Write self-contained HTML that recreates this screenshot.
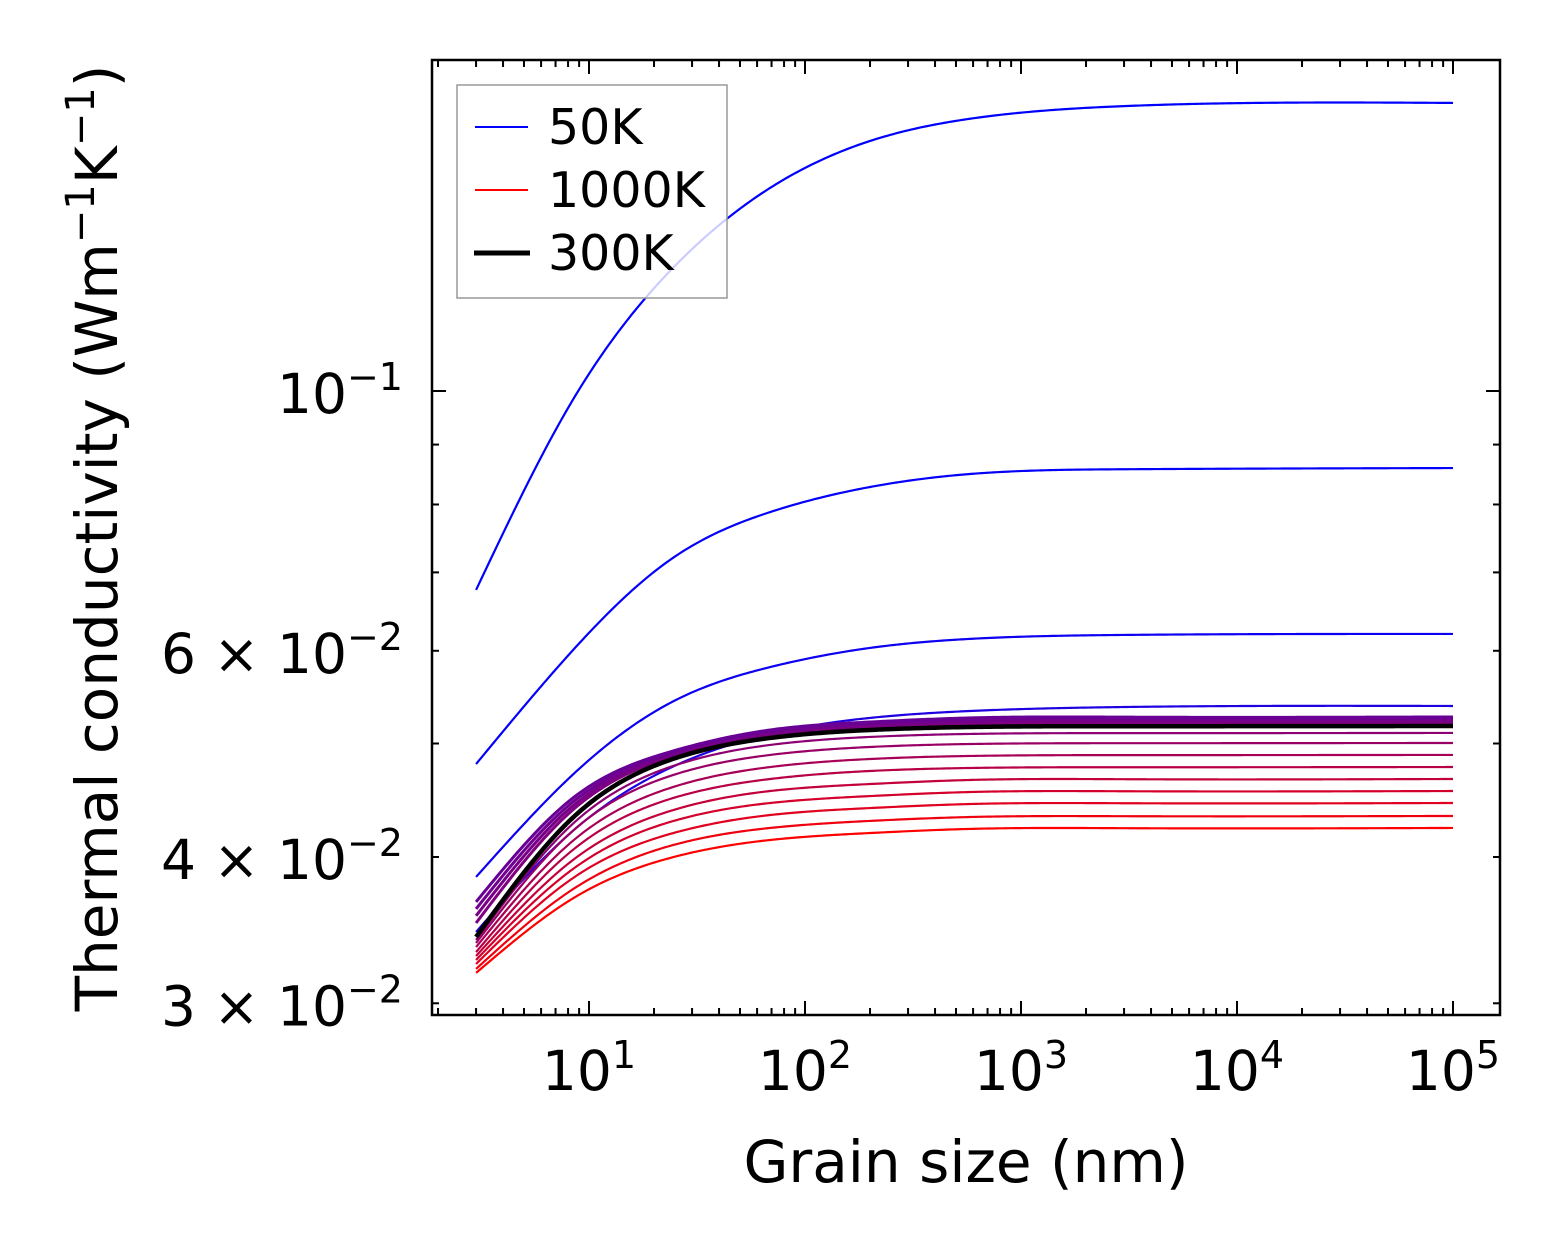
<!DOCTYPE html>
<html><head><meta charset="utf-8"><style>
html,body{margin:0;padding:0;background:#fff;}
svg{display:block;font-family:"DejaVu Sans","Liberation Sans",sans-serif;}
</style></head><body>
<svg id="chart" width="1562" height="1254" viewBox="0 0 1562 1254" xmlns="http://www.w3.org/2000/svg">
<rect width="1562" height="1254" fill="#fff"/>
<g id="curves"></g>
<g id="axes"></g>
<text x="966" y="1182" font-size="58" text-anchor="middle">Grain size (nm)</text>
<text transform="translate(117,538) rotate(-90)" font-size="58" text-anchor="middle">Thermal conductivity (Wm<tspan dy="-23" font-size="40">−1</tspan><tspan dy="23">K</tspan><tspan dy="-23" font-size="40">−1</tspan><tspan dy="23">)</tspan></text>
<g>
<rect x="457" y="85" width="270" height="213" fill="#fff" fill-opacity="0.8" stroke="#999" stroke-width="1.5"/>
<line x1="475" y1="127" x2="528" y2="127" stroke="#0000ff" stroke-width="2"/>
<text x="548" y="144" font-size="49">50K</text>
<line x1="475" y1="190" x2="528" y2="190" stroke="#ff0000" stroke-width="2"/>
<text x="548" y="207" font-size="49">1000K</text>
<line x1="474" y1="253" x2="530" y2="253" stroke="#000" stroke-width="5"/>
<text x="548" y="270" font-size="49">300K</text>
</g>
</svg>
<script>
// grain sizes (nm)
const grainSizes = [3, 8.2, 23.7, 69, 200, 580, 3000, 100000];
// thermal conductivity series (W/m/K)
const kBlue1 = [0.06763, 0.09747, 0.1266, 0.1491, 0.1635, 0.1708, 0.1751, 0.1762];
const kBlue2 = [0.04802, 0.05974, 0.07173, 0.07882, 0.08280, 0.08494, 0.08574, 0.08594];
const kBlue3 = [0.03846, 0.04682, 0.05414, 0.05811, 0.06034, 0.06142, 0.06190, 0.06202];
const kBlue4 = [0.03452, 0.04193, 0.04765, 0.05095, 0.05258, 0.05330, 0.05372, 0.05383];
const kPurple1 = [0.03662, 0.04474, 0.04918, 0.05135, 0.05216, 0.05258, 0.05266, 0.05268];
const kPurple2 = [0.03612, 0.04439, 0.04898, 0.05115, 0.05196, 0.05237, 0.05245, 0.05247];
const kPurple3 = [0.03563, 0.04404, 0.04879, 0.05095, 0.05175, 0.05216, 0.05225, 0.05227];
const kPurple4 = [0.03513, 0.04370, 0.04869, 0.05085, 0.05165, 0.05196, 0.05204, 0.05206];
const kRed1 = [0.03398, 0.04251, 0.04774, 0.04986, 0.05065, 0.05095, 0.05103, 0.05105];
const kRed2 = [0.03378, 0.04193, 0.04690, 0.04889, 0.04966, 0.04995, 0.05003, 0.05005];
const kRed3 = [0.03351, 0.04112, 0.04581, 0.04774, 0.04850, 0.04879, 0.04887, 0.04889];
const kRed4 = [0.03318, 0.04040, 0.04483, 0.04663, 0.04737, 0.04765, 0.04772, 0.04774];
const kRed5 = [0.03292, 0.03961, 0.04378, 0.04554, 0.04617, 0.04654, 0.04661, 0.04663];
const kRed6 = [0.03267, 0.03892, 0.04285, 0.04448, 0.04509, 0.04545, 0.04552, 0.04554];
const kRed7 = [0.03241, 0.03824, 0.04185, 0.04344, 0.04404, 0.04439, 0.04446, 0.04448];
const kRed8 = [0.03210, 0.03742, 0.04088, 0.04235, 0.04294, 0.04327, 0.04334, 0.04336];
const kRed9 = [0.03185, 0.03676, 0.03992, 0.04136, 0.04193, 0.04227, 0.04233, 0.04235];
const k300K = [0.03418, 0.04302, 0.04841, 0.05055, 0.05135, 0.05165, 0.05173, 0.05175];
const xTickLabels = ["10", "10", "10", "10", "10"];
const xTickExps = ["1", "2", "3", "4", "5"];
const yTickValues = [0.03, 0.04, 0.06, 0.1];
const yTickMant = ["3", "4", "6", ""];
const yTickExps = ["−2", "−2", "−2", "−1"];

const PL = 432, PR = 1500, PT = 60, PB = 1015;
function xs(L) { return 589 + 216 * (Math.log10(L) - 1); }
function ys(k) { return 391 - 1171 * (Math.log10(k) + 1); }
const NS = "http://www.w3.org/2000/svg";

// natural cubic spline through pixel points, sampled as polyline
function splinePath(px, py) {
  const n = px.length, h = [], a = [], b = [], c = [], r = [], M = new Array(n).fill(0);
  for (let i = 0; i < n - 1; i++) h.push(px[i + 1] - px[i]);
  const sub = [], diag = [], sup = [], rhs = [];
  for (let i = 1; i < n - 1; i++) {
    sub.push(h[i - 1]); diag.push(2 * (h[i - 1] + h[i])); sup.push(h[i]);
    rhs.push(6 * ((py[i + 1] - py[i]) / h[i] - (py[i] - py[i - 1]) / h[i - 1]));
  }
  const m = diag.length;
  for (let i = 1; i < m; i++) {
    const w = sub[i] / diag[i - 1];
    diag[i] -= w * sup[i - 1]; rhs[i] -= w * rhs[i - 1];
  }
  const sol = new Array(m);
  for (let i = m - 1; i >= 0; i--) sol[i] = (rhs[i] - (i < m - 1 ? sup[i] * sol[i + 1] : 0)) / diag[i];
  for (let i = 0; i < m; i++) M[i + 1] = sol[i];
  let p = "M" + px[0].toFixed(2) + "," + py[0].toFixed(2);
  for (let i = 0; i < n - 1; i++) {
    const steps = Math.max(4, Math.ceil(h[i] / 3));
    for (let s = 1; s <= steps; s++) {
      const x = px[i] + h[i] * s / steps;
      const A = (px[i + 1] - x) / h[i], B = (x - px[i]) / h[i];
      const y = A * py[i] + B * py[i + 1] + ((A * A * A - A) * M[i] + (B * B * B - B) * M[i + 1]) * h[i] * h[i] / 6;
      p += " L" + x.toFixed(2) + "," + y.toFixed(2);
    }
  }
  return p;
}
function col(t) { return "rgb(" + Math.round(255 * t) + ",0," + Math.round(255 * (1 - t)) + ")"; }

const seriesList = [
  ["curve-blue-1", kBlue1, 0], ["curve-blue-2", kBlue2, 0.02], ["curve-blue-3", kBlue3, 0.05],
  ["curve-blue-4", kBlue4, 0.12],
  ["curve-purple-4", kPurple4, 0.5], ["curve-purple-3", kPurple3, 0.47], ["curve-purple-2", kPurple2, 0.44], ["curve-purple-1", kPurple1, 0.41],
  ["curve-red-1", kRed1, 0.55], ["curve-red-2", kRed2, 0.6], ["curve-red-3", kRed3, 0.66], ["curve-red-4", kRed4, 0.72],
  ["curve-red-5", kRed5, 0.77], ["curve-red-6", kRed6, 0.83], ["curve-red-7", kRed7, 0.88], ["curve-red-8", kRed8, 0.94],
  ["curve-red-9", kRed9, 1.0]
];
const cg = document.getElementById("curves");
const pxArr = grainSizes.map(xs);
seriesList.forEach(function (s) {
  const p = document.createElementNS(NS, "path");
  p.setAttribute("d", splinePath(pxArr, s[1].map(ys)));
  p.setAttribute("fill", "none");
  p.setAttribute("stroke", col(s[2]));
  p.setAttribute("stroke-linejoin", "round");
  p.setAttribute("stroke-width", s[0].indexOf("purple") >= 0 ? "3" : "2.2");
  
  
  cg.appendChild(p);
});
const bp = document.createElementNS(NS, "path");
bp.setAttribute("d", splinePath(pxArr, k300K.map(ys)));
bp.setAttribute("fill", "none");
bp.setAttribute("stroke", "#000");
bp.setAttribute("stroke-linejoin", "round");
bp.setAttribute("stroke-width", "4.5");


cg.appendChild(bp);

const ax = document.getElementById("axes");
function ln(x1, y1, x2, y2, w, name) {
  const l = document.createElementNS(NS, "line");
  l.setAttribute("x1", x1); l.setAttribute("y1", y1); l.setAttribute("x2", x2); l.setAttribute("y2", y2);
  l.setAttribute("stroke", "#000"); l.setAttribute("stroke-width", w);
  
  
  ax.appendChild(l);
}
for (let e = 0; e <= 5; e++) {
  for (let m = 1; m <= 9; m++) {
    const x = xs(m * Math.pow(10, e));
    if (x < PL || x > PR) continue;
    const len = m === 1 ? 14 : 7;
    ln(x, PB, x, PB - len, 2, "x-tick");
    ln(x, PT, x, PT + len, 2, "x-tick-top");
  }
}
xTickExps.forEach(function (ex, i) {
  const x = xs(Math.pow(10, i + 1));
  const t = document.createElementNS(NS, "text");
  t.setAttribute("x", x); t.setAttribute("y", 1090);
  t.setAttribute("font-size", "55"); t.setAttribute("text-anchor", "middle");
  
  
  t.innerHTML = xTickLabels[i] + '<tspan dy="-22" font-size="38">' + ex + '</tspan>';
  ax.appendChild(t);
});
for (let k = 3; k <= 10; k++) {
  const y = ys(k / 100);
  const len = k === 10 ? 14 : 7;
  ln(PL, y, PL + len, y, 2, "y-tick");
  ln(PR, y, PR - len, y, 2, "y-tick-right");
}
yTickValues.forEach(function (v, i) {
  const y = ys(v);
  const t = document.createElementNS(NS, "text");
  t.setAttribute("x", 403); t.setAttribute("y", y + 22);
  t.setAttribute("font-size", "55"); t.setAttribute("text-anchor", "end");
  
  
  t.innerHTML = (yTickMant[i] ? yTickMant[i] + " \u00d7 " : "") + '10<tspan dy="-23" font-size="38">' + yTickExps[i] + '</tspan>';
  ax.appendChild(t);
});
const fr = document.createElementNS(NS, "rect");
fr.setAttribute("x", PL); fr.setAttribute("y", PT); fr.setAttribute("width", PR - PL); fr.setAttribute("height", PB - PT);
fr.setAttribute("fill", "none"); fr.setAttribute("stroke", "#000"); fr.setAttribute("stroke-width", "2.5");


ax.appendChild(fr);
</script>
</body></html>
